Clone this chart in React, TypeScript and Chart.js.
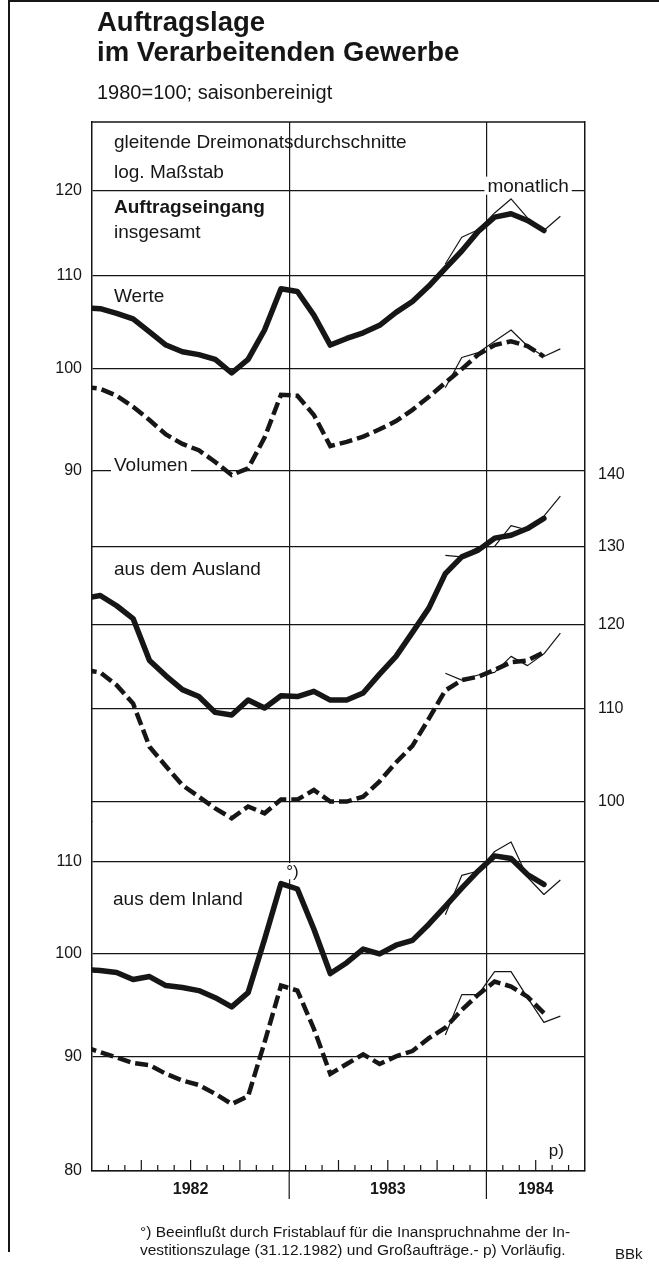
import React, { useEffect, useRef } from 'react';
import { Chart, registerables } from 'chart.js';

Chart.register(...registerables);

const INK = '#161616';
const FONT = "'Liberation Sans', Arial, Helvetica, sans-serif";

// ---------- time axis ----------
function monthRange(from: string, to: string): string[] {
  const [fy, fm] = from.split('-').map(Number);
  const [ty, tm] = to.split('-').map(Number);
  const out: string[] = [];
  let y = fy;
  let m = fm;
  while (y < ty || (y === ty && m <= tm)) {
    out.push(`${y}-${String(m).padStart(2, '0')}`);
    m++;
    if (m > 12) { m = 1; y++; }
  }
  return out;
}
// 0 = beginning of January 1982; monthly values sit in the middle of their month
function monthPos(label: string): number {
  const [y, m] = label.split('-').map(Number);
  return (y - 1982) * 12 + (m - 1) + 0.5;
}

const X_MAX = 30; // end of June 1984
const YEARS = ['1982', '1983', '1984'];

// gleitende Dreimonatsdurchschnitte, Dez 1981 – Apr 1984
const MA_MONTHS = monthRange('1981-12', '1984-04');
// monatliche Werte, Okt 1983 – Mai 1984
const MONTHLY_MONTHS = monthRange('1983-10', '1984-05');

// Auftragseingang insgesamt
const TOTAL_VALUE = [106.4, 106.3, 105.8, 105.2, 103.8, 102.4, 101.7, 101.4, 100.9, 99.5, 100.9, 104.0, 108.5, 108.2, 105.6, 102.4, 103.1, 103.7, 104.5, 105.9, 107.1, 108.8, 110.8, 112.8, 115.1, 116.8, 117.2, 116.4, 115.2];
const TOTAL_VOLUME = [98.1, 97.9, 97.2, 96.1, 94.8, 93.4, 92.5, 91.9, 90.8, 89.6, 90.2, 93.1, 97.3, 97.2, 95.3, 92.3, 92.7, 93.2, 93.9, 94.7, 95.8, 97.1, 98.5, 99.9, 101.4, 102.4, 102.8, 102.3, 101.2];
const TOTAL_VALUE_MONTHLY = [111.3, 114.4, 115.3, 117.3, 119.0, 116.7, 115.2, 116.9];
const TOTAL_VOLUME_MONTHLY = [98.0, 101.1, 101.6, 102.8, 104.0, 102.3, 101.2, 102.0];

// aus dem Ausland
const FOREIGN_VALUE = [123.2, 123.6, 122.3, 120.7, 115.6, 113.8, 112.2, 111.4, 109.6, 109.3, 111.0, 110.1, 111.5, 111.4, 112.0, 111.0, 111.0, 111.8, 114.0, 116.1, 119.0, 122.0, 126.4, 128.6, 129.5, 131.1, 131.5, 132.4, 133.8];
const FOREIGN_VOLUME = [114.5, 114.2, 112.7, 110.6, 105.8, 103.7, 101.7, 100.5, 99.3, 98.3, 99.5, 98.8, 100.2, 100.2, 101.2, 100.0, 100.0, 100.5, 102.1, 104.1, 105.9, 108.9, 112.1, 113.3, 113.7, 114.5, 115.4, 115.6, 116.6];
const FOREIGN_VALUE_MONTHLY = [128.8, 128.6, 129.9, 130.0, 132.8, 132.2, 134.1, 136.9];
const FOREIGN_VOLUME_MONTHLY = [114.1, 113.3, 113.9, 114.2, 116.1, 115.0, 116.4, 118.9];

// aus dem Inland
const DOMESTIC_VALUE = [98.4, 98.3, 98.1, 97.4, 97.7, 96.8, 96.6, 96.3, 95.6, 94.7, 96.1, 101.5, 107.5, 106.9, 102.6, 98.0, 99.1, 100.5, 100.0, 100.9, 101.4, 103.1, 105.0, 107.0, 108.9, 110.6, 110.3, 108.5, 107.4];
const DOMESTIC_VOLUME = [90.9, 90.4, 89.9, 89.4, 89.2, 88.4, 87.8, 87.4, 86.6, 85.7, 86.4, 91.3, 96.8, 96.3, 92.6, 88.4, 89.3, 90.2, 89.3, 90.0, 90.5, 91.7, 92.7, 94.4, 95.9, 97.2, 96.7, 95.7, 94.1];
const DOMESTIC_VALUE_MONTHLY = [104.1, 108.4, 108.9, 111.1, 112.2, 108.2, 106.3, 107.9];
const DOMESTIC_VOLUME_MONTHLY = [92.0, 95.9, 95.9, 98.2, 98.2, 95.6, 93.2, 93.8];

// tick labels of the log scales
const TICKS_TOTAL = [90, 100, 110, 120];
const TICKS_FOREIGN = [100, 110, 120, 130, 140];
const TICKS_DOMESTIC = [80, 90, 100, 110];

// log-scale ranges (identical density: one third of the height spans a factor of ~1.433)
const RANGE_TOTAL: [number, number] = [89.9, 128.8];
const RANGE_MIDDLE: [number, number] = [97.7, 140.0];
const RANGE_DOMESTIC: [number, number] = [80, 114.6];
const RANGE_FOREIGN: [number, number] = [68.4, 201.1]; // full-height right scale

function series(months: string[], values: number[], axis: string, style: any) {
  return {
    data: months.map((mo, i) => ({ x: monthPos(mo), y: values[i] })),
    yAxisID: axis,
    borderColor: INK,
    backgroundColor: INK,
    pointRadius: 0,
    pointHoverRadius: 0,
    tension: 0,
    clip: { left: 0, right: 0, top: false, bottom: false },
    fill: false,
    borderJoinStyle: 'round',
    ...style,
  };
}

const SOLID = { borderWidth: 5.5, borderCapStyle: 'round' };
const DASHED = { borderWidth: 4.5, borderDash: [13, 5], borderCapStyle: 'butt', borderJoinStyle: 'miter' };
const THIN = { borderWidth: 1.2, borderCapStyle: 'butt' };

function yearLabel(value: number): string {
  for (let k = 0; k < YEARS.length; k++) {
    const start = k * 12;
    const end = Math.min(start + 12, X_MAX);
    if (value === (start + end) / 2) return YEARS[k];
  }
  return '';
}

const FRAME = { display: true, color: INK, width: 1.5 };

function logAxis(position: 'left' | 'right', range: [number, number], ticks: number[], extra: any) {
  return {
    type: 'logarithmic',
    position,
    min: range[0],
    max: range[1],
    afterBuildTicks: (s: any) => {
      s.ticks = ticks.map((v) => ({ value: v }));
    },
    ticks: {
      autoSkip: false,
      callback: (v: any) => String(v),
      font: { family: FONT, size: 16 },
      color: INK,
      padding: 10,
    },
    grid: { color: INK, lineWidth: 1.2, drawTicks: false },
    border: FRAME,
    ...extra,
  };
}

type Note = { text: string; x: number; y: number; size: number; bold?: boolean; bg?: boolean };

const annotationPlugin = {
  id: 'bbkFrame',
  afterDraw(chart: any) {
    const { ctx, chartArea: ca, scales } = chart;
    const xs = scales.x;
    const y1 = scales.yTotal;
    const y3 = scales.yDomestic;
    ctx.save();
    ctx.strokeStyle = INK;
    // top frame line
    ctx.lineWidth = 1.5;
    ctx.beginPath();
    ctx.moveTo(ca.left, ca.top);
    ctx.lineTo(ca.right, ca.top);
    ctx.stroke();
    // month ticks (inside) and year separators (below axis)
    ctx.lineWidth = 1.2;
    ctx.beginPath();
    for (let m = 1; m < X_MAX; m++) {
      const px = xs.getPixelForValue(m);
      if (m % 12 === 0) {
        ctx.moveTo(px, ca.bottom);
        ctx.lineTo(px, ca.bottom + 28);
      } else {
        const len = m % 3 === 0 ? 11 : 6;
        ctx.moveTo(px, ca.bottom);
        ctx.lineTo(px, ca.bottom - len);
      }
    }
    ctx.stroke();

    const L = ca.left;
    const notes: Note[] = [
      { text: 'gleitende Dreimonatsdurchschnitte', x: L + 22, y: ca.top + 26, size: 19 },
      { text: 'log. Maßstab', x: L + 22, y: ca.top + 55.5, size: 19 },
      { text: 'Auftragseingang', x: L + 22, y: ca.top + 91, size: 19, bold: true },
      { text: 'insgesamt', x: L + 22, y: ca.top + 115.5, size: 19 },
      { text: 'Werte', x: L + 22, y: ca.top + 179.5, size: 19 },
      { text: 'Volumen', x: L + 22, y: y1.getPixelForValue(90) + 0.5, size: 19, bg: true },
      { text: 'monatlich', x: xs.getPixelForValue(24) + 1, y: y1.getPixelForValue(120) + 1, size: 19, bg: true },
      { text: 'aus dem Ausland', x: L + 22, y: ca.top + 453, size: 19 },
      { text: 'aus dem Inland', x: L + 21, y: ca.top + 783, size: 19 },
      { text: '°)', x: xs.getPixelForValue(12) - 3, y: y3.getPixelForValue(110) + 15.5, size: 17, bg: true },
      { text: 'p)', x: xs.getPixelForValue(27.8), y: ca.bottom - 15, size: 17 },
    ];
    ctx.textBaseline = 'alphabetic';
    ctx.textAlign = 'left';
    for (const n of notes) {
      ctx.font = `${n.bold ? 'bold ' : ''}${n.size}px ${FONT}`;
      if (n.bg) {
        const w = ctx.measureText(n.text).width;
        ctx.fillStyle = '#ffffff';
        ctx.fillRect(n.x - 3, n.y - n.size * 0.8, w + 6, n.size * 0.95);
      }
      ctx.fillStyle = INK;
      ctx.fillText(n.text, n.x, n.y);
    }
    ctx.restore();
  },
};

export default function App() {
  const ref = useRef<HTMLCanvasElement>(null);

  useEffect(() => {
    const canvas = ref.current;
    if (!canvas) return;

    const datasets: any[] = [
      series(MA_MONTHS, TOTAL_VALUE, 'yTotal', SOLID),
      series(MA_MONTHS, TOTAL_VOLUME, 'yTotal', DASHED),
      series(MONTHLY_MONTHS, TOTAL_VALUE_MONTHLY, 'yTotal', THIN),
      series(MONTHLY_MONTHS, TOTAL_VOLUME_MONTHLY, 'yTotal', THIN),
      series(MA_MONTHS, FOREIGN_VALUE, 'yForeign', SOLID),
      series(MA_MONTHS, FOREIGN_VOLUME, 'yForeign', DASHED),
      series(MONTHLY_MONTHS, FOREIGN_VALUE_MONTHLY, 'yForeign', THIN),
      series(MONTHLY_MONTHS, FOREIGN_VOLUME_MONTHLY, 'yForeign', THIN),
      series(MA_MONTHS, DOMESTIC_VALUE, 'yDomestic', SOLID),
      series(MA_MONTHS, DOMESTIC_VOLUME, 'yDomestic', DASHED),
      series(MONTHLY_MONTHS, DOMESTIC_VALUE_MONTHLY, 'yDomestic', THIN),
      series(MONTHLY_MONTHS, DOMESTIC_VOLUME_MONTHLY, 'yDomestic', THIN),
    ];

    const leftWidth = (s: any) => { s.width = 40; };

    const chart = new Chart(canvas, {
      type: 'line',
      data: { datasets },
      options: {
        animation: false,
        responsive: false,
        maintainAspectRatio: false,
        devicePixelRatio: 1,
        events: [],
        layout: { padding: { left: 52, right: 14, top: 122, bottom: 59 } },
        plugins: { legend: { display: false }, tooltip: { enabled: false }, title: { display: false } },
        scales: {
          x: {
            type: 'linear',
            position: 'bottom',
            min: 0,
            max: X_MAX,
            afterFit: (s: any) => { s.height = 40; },
            ticks: {
              stepSize: 1,
              autoSkip: false,
              maxRotation: 0,
              minRotation: 0,
              callback: (v: any) => yearLabel(Number(v)),
              font: { family: FONT, size: 16, weight: 'bold' },
              color: INK,
              padding: 9,
            },
            grid: {
              drawTicks: false,
              lineWidth: 1.2,
              color: (c: any) => (c.tick && c.tick.value % 12 === 0 && c.tick.value > 0 && c.tick.value < X_MAX ? INK : 'rgba(0,0,0,0)'),
            },
            border: FRAME,
          },
          // left side: three stacked panels of equal height
          yTotal: logAxis('left', RANGE_TOTAL, TICKS_TOTAL, {
            stack: 'left', stackWeight: 1, weight: 3, afterFit: leftWidth,
          }),
          yMiddle: logAxis('left', RANGE_MIDDLE, [], {
            stack: 'left', stackWeight: 1, weight: 2, afterFit: leftWidth,
            ticks: { display: false },
            grid: { display: false },
          }),
          yDomestic: logAxis('left', RANGE_DOMESTIC, TICKS_DOMESTIC, {
            stack: 'left', stackWeight: 1, weight: 1, afterFit: leftWidth,
          }),
          // right side: the Ausland scale
          yForeign: logAxis('right', RANGE_FOREIGN, TICKS_FOREIGN, {
            afterFit: (s: any) => { s.width = 60; },
            ticks: {
              autoSkip: false,
              callback: (v: any) => String(v),
              font: { family: FONT, size: 16 },
              color: INK,
              padding: 13,
            },
            grid: {
              drawTicks: false,
              lineWidth: 1.2,
              color: (c: any) => (c.tick && c.tick.value === 140 ? 'rgba(0,0,0,0)' : INK),
            },
          }),
        },
      } as any,
      plugins: [annotationPlugin],
    });

    return () => chart.destroy();
  }, []);

  const abs = (left: number, top: number, size: number, extra: any = {}) => ({
    position: 'absolute' as const,
    left,
    top,
    fontSize: size,
    lineHeight: `${size}px`,
    whiteSpace: 'nowrap' as const,
    ...extra,
  });

  return (
    <div style={{ position: 'absolute', left: 0, top: 0, width: 659, height: 1270, background: '#fff', overflow: 'hidden', fontFamily: FONT, color: INK }}>
      <div style={{ position: 'absolute', left: 8, top: 0, width: 1.5, height: 1252, background: INK }} />
      <div style={{ position: 'absolute', left: 8, top: 0, width: 651, height: 2, background: INK }} />
      <canvas ref={ref} width={659} height={1270} style={{ position: 'absolute', left: 0, top: 0, width: 659, height: 1270, display: 'block' }} />
      <div style={{ position: 'absolute', left: 97, top: 7.2, fontSize: 27.5, fontWeight: 700, lineHeight: '30px', whiteSpace: 'nowrap' }}>
        Auftragslage
        <br />
        im Verarbeitenden Gewerbe
      </div>
      <div style={abs(97, 82.4, 20)}>1980=100; saisonbereinigt</div>
      <div style={abs(140, 1223.9, 15.5)}>°) Beeinflußt durch Fristablauf für die Inanspruchnahme der In-</div>
      <div style={abs(140, 1241.9, 15.5)}>vestitionszulage (31.12.1982) und Großaufträge.- p) Vorläufig.</div>
      <div style={abs(615, 1246.3, 15)}>BBk</div>
    </div>
  );
}
